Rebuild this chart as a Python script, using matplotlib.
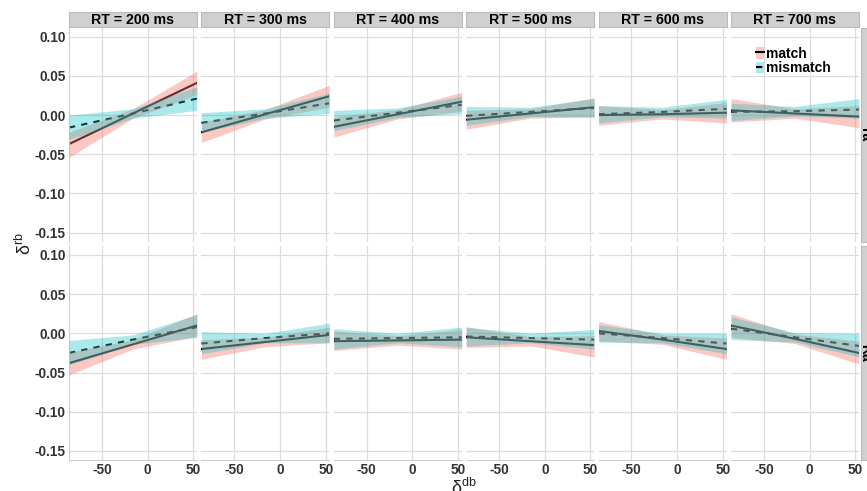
import matplotlib
matplotlib.use("Agg")
import matplotlib.pyplot as plt
from matplotlib.patches import Patch
from matplotlib.lines import Line2D

plt.rcParams["font.family"] = ["Liberation Sans", "DejaVu Sans"]
plt.rcParams["mathtext.fontset"] = "custom"
plt.rcParams["mathtext.rm"] = "Liberation Sans"
plt.rcParams["axes.unicode_minus"] = False

# facets
rt_labels = ["RT = 200 ms", "RT = 300 ms", "RT = 400 ms",
             "RT = 500 ms", "RT = 600 ms", "RT = 700 ms"]
row_labels = ["ra", "Ra"]

# x positions where the fitted lines / ribbons are read (left, centre, right)
x_pts = [-86, -16, 54]

# top row, condition "match": fit, lower, upper per RT panel
top_match_fit = [[-0.037, 0.002, 0.041], [-0.022, 0.001, 0.024], [-0.015, 0.001, 0.017],
                 [-0.006, 0.002, 0.010], [0.000, 0.001, 0.003], [0.006, 0.002, -0.002]]
top_match_lo = [[-0.054, -0.004, 0.026], [-0.035, -0.005, 0.010], [-0.028, -0.005, 0.005],
                [-0.018, -0.004, -0.002], [-0.013, -0.005, -0.010], [-0.009, -0.004, -0.016]]
top_match_hi = [[-0.022, 0.008, 0.056], [-0.009, 0.007, 0.038], [-0.002, 0.007, 0.029],
                [0.006, 0.008, 0.022], [0.012, 0.007, 0.016], [0.021, 0.008, 0.012]]

# top row, condition "mismatch"
top_mis_fit = [[-0.016, 0.002, 0.021], [-0.010, 0.002, 0.015], [-0.007, 0.003, 0.013],
               [-0.001, 0.004, 0.009], [0.001, 0.004, 0.008], [0.004, 0.005, 0.007]]
top_mis_lo = [[-0.031, -0.004, 0.006], [-0.022, -0.004, 0.002], [-0.020, -0.003, 0.002],
              [-0.013, -0.002, -0.003], [-0.010, -0.002, -0.004], [-0.007, -0.001, -0.004]]
top_mis_hi = [[0.000, 0.008, 0.036], [0.003, 0.008, 0.028], [0.006, 0.009, 0.024],
              [0.011, 0.010, 0.021], [0.012, 0.010, 0.020], [0.015, 0.011, 0.021]]

# bottom row, condition "match"
bot_match_fit = [[-0.038, -0.014, 0.010], [-0.020, -0.011, -0.002], [-0.010, -0.009, -0.008],
                 [-0.005, -0.010, -0.015], [0.003, -0.008, -0.020], [0.010, -0.007, -0.025]]
bot_match_lo = [[-0.053, -0.020, -0.004], [-0.033, -0.017, -0.012], [-0.022, -0.015, -0.020],
                [-0.018, -0.016, -0.030], [-0.010, -0.014, -0.033], [-0.005, -0.013, -0.039]]
bot_match_hi = [[-0.024, -0.008, 0.025], [-0.008, -0.005, 0.008], [0.003, -0.003, 0.005],
                [0.008, -0.004, -0.003], [0.015, -0.002, -0.006], [0.025, -0.001, -0.010]]

# bottom row, condition "mismatch"
bot_mis_fit = [[-0.025, -0.008, 0.008], [-0.013, -0.006, 0.000], [-0.007, -0.006, -0.005],
               [-0.004, -0.006, -0.008], [0.000, -0.006, -0.013], [0.006, -0.005, -0.016]]
bot_mis_lo = [[-0.040, -0.014, -0.005], [-0.026, -0.012, -0.012], [-0.020, -0.012, -0.017],
              [-0.016, -0.012, -0.020], [-0.011, -0.012, -0.026], [-0.008, -0.011, -0.030]]
bot_mis_hi = [[-0.009, -0.002, 0.024], [0.002, 0.000, 0.013], [0.006, 0.000, 0.008],
              [0.008, 0.000, 0.005], [0.011, 0.000, 0.000], [0.021, 0.001, 0.000]]

x_ticks = [-50, 0, 50]
y_ticks = [-0.15, -0.10, -0.05, 0.00, 0.05, 0.10]

pink = "#F8766D"
cyan = "#00BFC4"
grid_col = "#dcdcdc"
strip_fill = "#d0d0d0"
strip_edge = "#bcbcbc"

W, H = 867, 491
fig = plt.figure(figsize=(W / 100, H / 100), dpi=100)

col_w, col_gap = 127.9, 4.5
left0 = 69
row_tops = [28, 246.3]
row_h = 213.7

rows = [
    (top_match_fit, top_match_lo, top_match_hi, top_mis_fit, top_mis_lo, top_mis_hi),
    (bot_match_fit, bot_match_lo, bot_match_hi, bot_mis_fit, bot_mis_lo, bot_mis_hi),
]


def px_axes(l, t, w, h):
    return fig.add_axes([l / W, 1 - (t + h) / H, w / W, h / H])


for r, (mf, ml, mh, sf, sl, sh) in enumerate(rows):
    for c in range(6):
        ax = px_axes(left0 + c * (col_w + col_gap), row_tops[r], col_w, row_h)
        ax.set_xlim(-86, 54)
        ax.set_ylim(-0.1615, 0.111)
        ax.set_xticks(x_ticks)
        ax.set_yticks(y_ticks)
        ax.grid(True, color=grid_col, lw=0.9)
        ax.set_axisbelow(True)
        ax.tick_params(length=0, pad=2.5, labelsize=9.8, labelcolor="#333333")
        for s in ax.spines.values():
            s.set_visible(False)
        if c == 0:
            ax.spines["left"].set_visible(True)
            ax.spines["left"].set_color("#cfcfcf")
            ax.set_yticklabels(["%.2f" % v for v in y_ticks])
        else:
            ax.set_yticklabels([])
        if r == 1:
            ax.spines["bottom"].set_visible(True)
            ax.spines["bottom"].set_color("#cfcfcf")
        else:
            ax.set_xticklabels([])
        for lab in ax.get_xticklabels() + ax.get_yticklabels():
            lab.set_fontweight("bold")

        # lines underneath, ribbons drawn over them
        ax.plot(x_pts, mf[c], color="black", lw=1.5, zorder=2)
        ax.plot(x_pts, sf[c], color="black", lw=1.5, ls=(0, (3, 3)), zorder=2)
        ax.fill_between(x_pts, ml[c], mh[c], color=pink, alpha=0.4, lw=0, zorder=3)
        ax.fill_between(x_pts, sl[c], sh[c], color=cyan, alpha=0.33, lw=0, zorder=3)

        if r == 0:
            sax = px_axes(left0 + c * (col_w + col_gap), 11.7, col_w, 15)
            sax.set_xticks([])
            sax.set_yticks([])
            sax.set_facecolor(strip_fill)
            for s in sax.spines.values():
                s.set_color(strip_edge)
                s.set_linewidth(0.8)
            sax.text(0.5, 0.45, rt_labels[c], ha="center", va="center",
                     fontsize=10.2, fontweight="bold", transform=sax.transAxes)

        if c == 5:
            rax = px_axes(860.7, row_tops[r], 15, row_h)
            rax.set_xticks([])
            rax.set_yticks([])
            rax.set_facecolor(strip_fill)
            for s in rax.spines.values():
                s.set_color(strip_edge)
                s.set_linewidth(0.8)
            rax.text(0.3, 0.5, row_labels[r], ha="center", va="center", rotation=270,
                     fontsize=10, fontweight="bold", transform=rax.transAxes)

        if r == 0 and c == 5:
            h_match = (Patch(facecolor=pink, alpha=0.4, lw=0),
                       Line2D([], [], color="black", lw=1.5))
            h_mis = (Patch(facecolor=cyan, alpha=0.33, lw=0),
                     Line2D([], [], color="black", lw=1.5, ls=(0, (3, 3))))
            ax.legend([h_match, h_mis], ["match", "mismatch"], loc="upper left",
                      bbox_to_anchor=(0.145, 0.945), frameon=False, borderpad=0,
                      handlelength=0.55, handleheight=0.9, handletextpad=0.15,
                      labelspacing=0.05, prop={"weight": "bold", "size": 10})

fig.text(25 / W, 1 - 244 / H, r"δ$^{\mathrm{rb}}$", rotation=90, ha="center",
         va="center", fontsize=13, color="#222222")
fig.text(464 / W, 1 - 478 / H, r"δ$^{\mathrm{db}}$", ha="center", va="top",
         fontsize=13, color="#222222")

fig.savefig("out.png", dpi=100)
